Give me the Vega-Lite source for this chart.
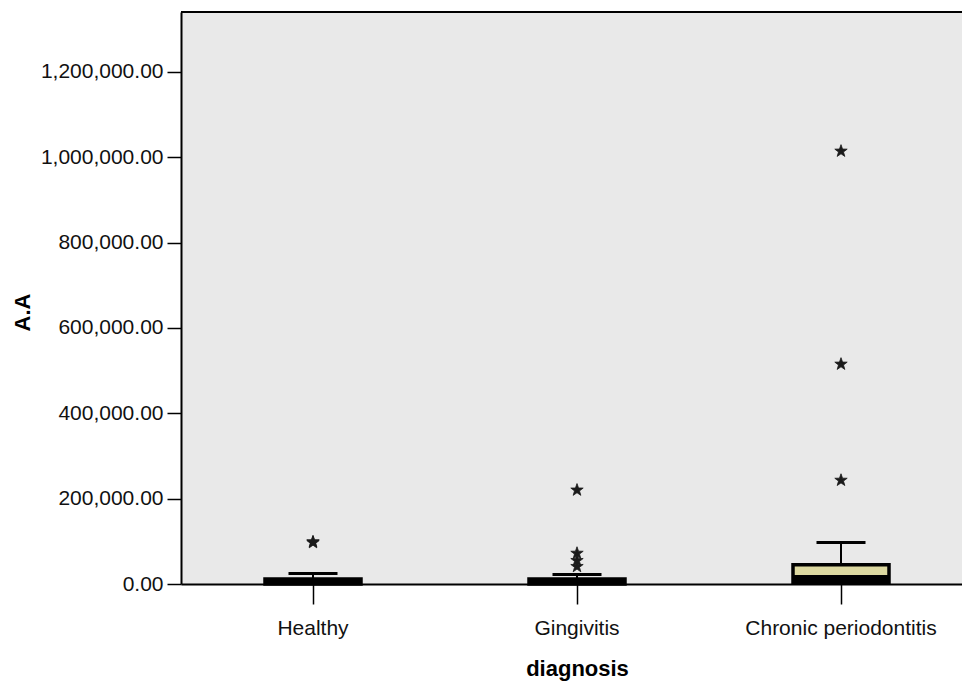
{
  "$schema": "https://vega.github.io/schema/vega-lite/v6.json",
  "width": 781,
  "height": 572,
  "autosize": {"type": "none"},
  "padding": {"left": 181, "top": 12, "right": 0, "bottom": 104},
  "background": "white",
  "config": {
    "view": {"fill": "#e9e9e9", "stroke": null},
    "font": "Liberation Sans, Arial, sans-serif"
  },
  "datasets": {
    "boxes": [
      {"diagnosis": "Healthy", "lower": 0, "q1": 0, "median": 5000, "q3": 12000, "upper": 24500},
      {"diagnosis": "Gingivitis", "lower": 0, "q1": 0, "median": 4500, "q3": 12000, "upper": 22000},
      {"diagnosis": "Chronic periodontitis", "lower": 0, "q1": 3000, "median": 14000, "q3": 45000, "upper": 97000}
    ],
    "outliers": [
      {"diagnosis": "Healthy", "value": 97000},
      {"diagnosis": "Healthy", "value": 99000},
      {"diagnosis": "Gingivitis", "value": 220000},
      {"diagnosis": "Gingivitis", "value": 72000},
      {"diagnosis": "Gingivitis", "value": 55000},
      {"diagnosis": "Gingivitis", "value": 41000},
      {"diagnosis": "Chronic periodontitis", "value": 1014000},
      {"diagnosis": "Chronic periodontitis", "value": 515000},
      {"diagnosis": "Chronic periodontitis", "value": 243000}
    ],
    "frame": [{"top": 1340000}]
  },
  "encoding": {
    "x": {
      "field": "diagnosis",
      "type": "nominal",
      "sort": ["Healthy", "Gingivitis", "Chronic periodontitis"],
      "scale": {"range": [0, 792], "paddingInner": 0, "paddingOuter": 0},
      "axis": {
        "title": "diagnosis",
        "titleFont": "Liberation Sans, Arial, sans-serif",
        "titleFontSize": 22,
        "titleFontWeight": "bold",
        "titleColor": "#000",
        "titleY": 84,
        "titleBaseline": "middle",
        "labelFontSize": 21,
        "labelColor": "#111",
        "labelAngle": 0,
        "labelPadding": 13,
        "labelLimit": 0,
        "tickSize": 20,
        "tickColor": "#000",
        "tickWidth": 1.5,
        "domain": true,
        "domainColor": "#000",
        "domainWidth": 2,
        "grid": false
      }
    }
  },
  "layer": [
    {
      "data": {"name": "boxes"},
      "mark": {"type": "rule", "color": "#000", "strokeWidth": 2},
      "encoding": {
        "y": {
          "field": "lower",
          "type": "quantitative",
          "scale": {"domain": [0, 1340000], "nice": false, "zero": true},
          "axis": {
            "title": "A.A",
            "titleFont": "Liberation Sans, Arial, sans-serif",
            "titleFontSize": 22,
            "titleFontWeight": "bold",
            "titleColor": "#000",
            "titleAngle": 270,
            "titleX": -159,
            "titleY": 300,
            "titleAlign": "center",
            "titleBaseline": "middle",
            "values": [0, 200000, 400000, 600000, 800000, 1000000, 1200000],
            "format": ",.2f",
            "labelFontSize": 21,
            "labelColor": "#111",
            "labelPadding": 4,
            "labelLimit": 0,
            "tickSize": 14,
            "tickColor": "#000",
            "tickWidth": 1.5,
            "domain": true,
            "domainColor": "#000",
            "domainWidth": 2,
            "grid": false
          }
        },
        "y2": {"field": "upper"}
      }
    },
    {
      "data": {"name": "boxes"},
      "mark": {"type": "bar", "width": 96, "fill": "#dcd8a0", "stroke": "#000", "strokeWidth": 3.5, "opacity": 1},
      "encoding": {
        "y": {"field": "q1", "type": "quantitative"},
        "y2": {"field": "q3"}
      }
    },
    {
      "data": {"name": "boxes"},
      "mark": {"type": "tick", "size": 96, "thickness": 6, "color": "#000", "opacity": 1},
      "encoding": {
        "y": {"field": "median", "type": "quantitative"}
      }
    },
    {
      "data": {"name": "boxes"},
      "mark": {"type": "tick", "size": 49, "thickness": 3, "color": "#000", "opacity": 1},
      "encoding": {
        "y": {"field": "upper", "type": "quantitative"}
      }
    },
    {
      "data": {"name": "outliers"},
      "mark": {
        "type": "point",
        "shape": "M0,-1L0.235,-0.324L0.951,-0.309L0.38,0.124L0.588,0.809L0,0.4L-0.588,0.809L-0.38,0.124L-0.951,-0.309L-0.235,-0.324Z",
        "filled": true,
        "color": "#1a1a1a",
        "stroke": "#1a1a1a",
        "strokeWidth": 0.8,
        "size": 170,
        "opacity": 1
      },
      "encoding": {
        "y": {"field": "value", "type": "quantitative"}
      }
    },
    {
      "data": {"name": "frame"},
      "mark": {"type": "rule", "color": "#000", "strokeWidth": 2},
      "encoding": {
        "x": null,
        "y": {"field": "top", "type": "quantitative"}
      }
    }
  ]
}
